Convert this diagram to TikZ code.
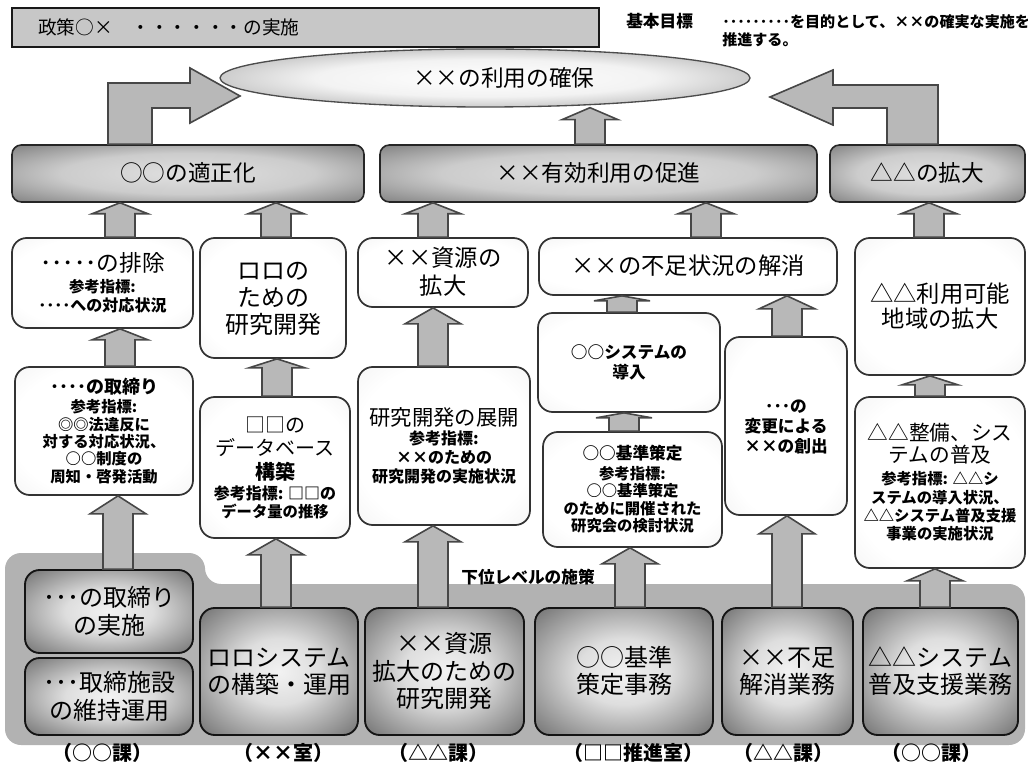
\documentclass[tikz,border=0pt]{standalone}
\usepackage{fontspec}
\setmainfont{Noto Sans CJK JP}
\usetikzlibrary{shapes.geometric,calc}
\newcommand\fsz[1]{\fontsize{#1}{#1}\selectfont}
\newcommand\jL[2]{{\fsz{#1}\raisebox{0pt}[0.86em][0.14em]{#2}}}
\newcommand\jB[2]{{\fsz{#1}\bfseries\raisebox{0pt}[0.86em][0.14em]{#2}}}
\newcommand\jsp{\setlength{\lineskip}{1.5pt}\setlength{\lineskiplimit}{0pt}}
\pgfdeclareradialshading{lightshade}{\pgfpoint{0bp}{0bp}}{color(0bp)=(white); color(26bp)=(white); color(44bp)=(black!7); color(55bp)=(black!14); color(75bp)=(black!18)}
\pgfdeclareradialshading{darkshade}{\pgfpoint{0bp}{0bp}}{color(0bp)=(black!5); color(13bp)=(black!13); color(30bp)=(black!45); color(45bp)=(black!74); color(52bp)=(black!82); color(75bp)=(black!88)}
\pgfdeclareradialshading{hdrshade}{\pgfpoint{0bp}{0bp}}{color(0bp)=(black!12); color(18bp)=(black!20); color(33bp)=(black!45); color(45bp)=(black!66); color(52bp)=(black!74); color(75bp)=(black!78)}
\pgfdeclareradialshading{goalshade}{\pgfpoint{0bp}{0bp}}{color(0bp)=(white); color(16bp)=(black!5); color(30bp)=(black!28); color(42bp)=(black!58); color(50bp)=(black!80); color(75bp)=(black!85)}
\tikzset{
  rect/.style n args={4}{minimum width={(#3-#1)*0.75pt}, minimum height={(#4-#2)*0.75pt}, at={({(#1+#3)/2},{(#2+#4)/2})}},
  lightbox/.style={draw=black!80, line width=1.3pt, rounded corners=11pt, shade, shading=lightshade, inner sep=0pt, align=center, font=\fsz{10}\jsp},
  darkbox/.style={draw=black!92, line width=1.4pt, rounded corners=11pt, shade, shading=darkshade, inner sep=0pt, align=center, font=\fsz{10}\jsp},
  hdrbox/.style={draw=black!85, line width=1.2pt, rounded corners=7pt, shade, shading=hdrshade, inner sep=0pt},
  goalnode/.style={ellipse, draw=black!70, line width=1pt, shade, shading=goalshade, inner sep=0pt},
  topbar/.style={draw=black!90, line width=1.1pt, fill=black!22, inner sep=0pt},
  barrow/.style={draw=black!72, line width=1.2pt, fill=black!28, line join=miter},
  lab/.style={inner sep=0pt},
  band/.style={fill=black!30, rounded corners=12pt},
}
% block arrow: x (px), lower node, upper node, head length (px)
\newcommand{\blockup}[4]{%
  \draw[barrow] let \p1=(#1,0), \p2=(#2.north), \p3=(#3.south) in
   (\x1-11.25pt,\y2) -- (\x1-11.25pt,\y3-#4*0.75pt) -- (\x1-21pt,\y3-#4*0.75pt) -- (\x1,\y3)
   -- (\x1+21pt,\y3-#4*0.75pt) -- (\x1+11.25pt,\y3-#4*0.75pt) -- (\x1+11.25pt,\y2) -- cycle;}
\begin{document}
\begin{tikzpicture}[x=0.75pt,y=-0.75pt]
\useasboundingbox (0,0) rectangle (1028,766);
% top
\node[topbar, rect={12}{8}{599}{47}] (bar) {};
\node[anchor=west, inner sep=0pt] (bartxt) at (38,27.5) {\jL{14}{政策○×　・・・・・・の実施}};
\node[anchor=west, inner sep=0pt] (kihon) at (626,22) {\jB{12.5}{基本目標}};
\node[anchor=north west, align=left, inner sep=0pt] (kihontxt) at (722,14) {\jB{11.3}{･････････を目的として、××の確実な実施を}\\[1.5pt]\jB{11.3}{推進する。}};
\node[goalnode, minimum width=397.5pt, minimum height=43.5pt] (goal) at (485,78) {\hspace*{28pt}\jL{17}{××の利用の確保}};
% bottom band
\fill[band] (5,553) -- (205,553) -- (205,584) -- (1025,584) -- (1025,745) -- (5,745) -- cycle;
% headers
\node[hdrbox, rect={12}{145}{364}{202}] (H1) {\jL{17}{○○の適正化}};
\node[hdrbox, rect={380}{145}{817}{202}] (H2) {\jL{17}{××有効利用の促進}};
\node[hdrbox, rect={830}{145}{1025}{202}] (H3) {\jL{17}{△△の拡大}};
% row 2
\node[lightbox, rect={12}{238}{193}{328}] (A) {\jL{17}{･････の排除}\\[1.4pt]\jB{11.5}{参考指標:}\\[1pt]\jB{12}{････への対応状況}};
\node[lightbox, rect={200}{238}{346}{358}] (B) {\jL{18}{ロロの}\\[0.8pt]\jL{18}{ための}\\[0.8pt]\jL{18}{研究開発}};
\node[lightbox, rect={358}{238}{528}{307}] (C) {\jL{17.5}{××資源の}\\[2pt]\jL{17.5}{拡大}};
\node[lightbox, rect={539}{238}{837}{295}] (D) {\jL{17.5}{××の不足状況の解消}};
\node[lightbox, rect={855}{238}{1025}{375}] (E) {\jL{17.5}{△△利用可能}\\\jL{17.5}{地域の拡大}};
% row 3
\node[lightbox, rect={15}{367}{193}{495}] (F) {\jB{13.5}{････の取締り}\\[1.7pt]\jB{11.5}{参考指標:}\\\jB{11.5}{◎◎法違反に}\\\jB{11.5}{対する対応状況、}\\\jB{11.5}{○○制度の}\\\jB{11.5}{周知・啓発活動}};
\node[lightbox, rect={200}{397}{350}{538}] (G) {\jL{15}{□□の}\\[0.8pt]\jL{15}{データベース}\\[0.8pt]\jB{15}{構築}\\[1.4pt]\jB{12}{参考指標: □□の}\\[0.2pt]\jB{11.5}{データ量の推移}};
\node[lightbox, rect={358}{367}{530}{525}] (H) {\jL{16}{研究開発の展開}\\\jB{12}{参考指標:}\\[1pt]\jB{12}{××のための}\\[1pt]\jB{12}{研究開発の実施状況}};
\node[lightbox, rect={538}{313}{720}{412}] (I) {\jB{12.5}{○○システムの}\\[1pt]\jB{12.5}{導入}};
\node[lightbox, rect={543}{432}{722}{547}] (J) {\jB{12.5}{○○基準策定}\\[1.5pt]\jB{11.5}{参考指標:}\\\jB{11.5}{○○基準策定}\\\jB{11.5}{のために開催された}\\\jB{11.5}{研究会の検討状況}};
\node[lightbox, rect={725}{337}{847}{515}] (K) {\jB{12.5}{･･･の}\\[1pt]\jB{12.5}{変更による}\\[1pt]\jB{12.5}{××の創出}};
\node[lightbox, rect={855}{397}{1025}{568}] (L) {\jL{15.5}{△△整備、シス}\\[-1pt]\jL{15.5}{テムの普及}\\[3.5pt]\jB{11.5}{参考指標: △△シ}\\[0.7pt]\jB{11.5}{ステムの導入状況、}\\[0.7pt]\jB{11.5}{△△システム普及支援}\\[0.7pt]\jB{11.5}{事業の実施状況}};
% bottom boxes
\node[darkbox, rect={25}{570}{193}{653}] (M1) {\jL{18}{･･･の取締り}\\[1.5pt]\jL{18}{の実施}};
\node[darkbox, rect={25}{658}{193}{735}] (M2) {\jL{18}{･･･取締施設}\\[1.5pt]\jL{18}{の維持運用}};
\node[darkbox, rect={200}{608}{358}{735}] (M3) {\jL{18}{ロロシステム}\\[1pt]\jL{18}{の構築・運用}};
\node[darkbox, rect={365}{608}{524}{735}] (M4) {\jL{18}{××資源}\\[1pt]\jL{18}{拡大のための}\\[1pt]\jL{18}{研究開発}};
\node[darkbox, rect={535}{608}{713}{735}] (M5) {\jL{18}{○○基準}\\[1pt]\jL{18}{策定事務}};
\node[darkbox, rect={722}{608}{853}{735}] (M6) {\jL{18}{××不足}\\[1pt]\jL{18}{解消業務}};
\node[darkbox, rect={863}{608}{1018}{735}] (M7) {\jL{18}{△△システム}\\[1pt]\jL{18}{普及支援業務}};
\node[inner sep=0pt] (kai) at (528,577) {\jB{12.5}{下位レベルの施策}};
% labels
\node[lab] (l1) at (102,753) {\jB{15}{（○○課）}};
\node[lab] (l2) at (283,753) {\jB{15}{（××室）}};
\node[lab] (l3) at (438,753) {\jB{15}{（△△課）}};
\node[lab] (l4) at (633,753) {\jB{15}{（□□推進室）}};
\node[lab] (l5) at (783,753) {\jB{15}{（△△課）}};
\node[lab] (l6) at (931,753) {\jB{15}{（○○課）}};
% bent arrows
\draw[barrow] let \p1=(H1.north) in (81pt,\y1) -- (108,83) -- (190,83) -- (190,68) -- (240,96) -- (190,123) -- (190,108) -- (152,108) -- (114pt,\y1) -- cycle;
\draw[barrow] let \p1=(H3.north) in (703.5pt,\y1) -- (938,85) -- (833,85) -- (833,70) -- (770,97) -- (833,125) -- (833,108) -- (887,108) -- (665.25pt,\y1) -- cycle;
\blockup{590}{H2}{goal}{12}
% row2 -> headers
\blockup{120}{A}{H1}{11}
\blockup{276}{B}{H1}{11}
\blockup{433}{C}{H2}{11}
\blockup{706}{D}{H2}{11}
\blockup{929}{E}{H3}{11}
% row3 -> row2
\blockup{120}{F}{A}{11}
\blockup{277}{G}{B}{9}
\blockup{433}{H}{C}{16}
\blockup{622}{I}{D}{5}
\blockup{787}{K}{D}{13}
\blockup{624}{J}{I}{5}
\blockup{930}{L}{E}{9}
% bottom -> row3
\blockup{118}{M1}{F}{18}
\blockup{276}{M3}{G}{16}
\blockup{433}{M4}{H}{16}
\blockup{630}{M5}{J}{16}
\blockup{787}{M6}{K}{18}
\blockup{935}{M7}{L}{12}
\end{tikzpicture}
\end{document}
